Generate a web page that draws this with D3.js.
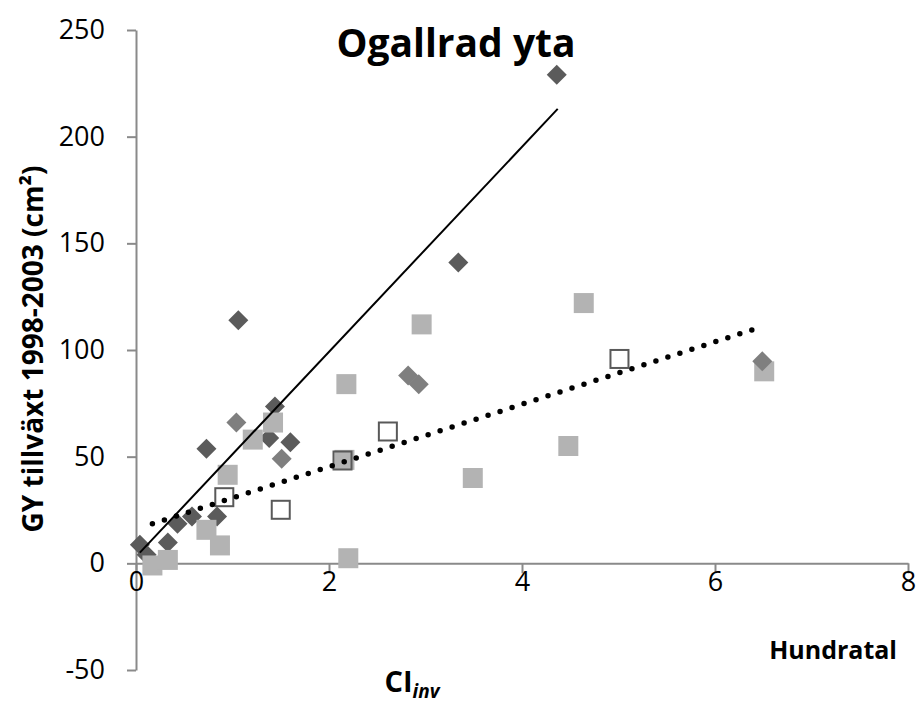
<!DOCTYPE html>
<html>
<head>
<meta charset="utf-8">
<script src="https://cdn.jsdelivr.net/npm/d3@7"></script>
<style>
  html, body { margin: 0; padding: 0; background: #fff; }
  svg { display: block; font-family: "Open Sans", sans-serif; }
</style>
</head>
<body>
<svg id="chart" width="917" height="709"></svg>
<script>
// ---- data ----
const darkX = [0.04, 0.11, 0.33, 0.43, 0.58, 0.84, 0.73, 1.06, 1.38, 1.44, 1.60, 3.34, 4.36];
const darkY = [8.7, 4, 9.8, 18.5, 22, 22, 53.7, 113.9, 58.7, 73.5, 56.8, 141, 229];

const medX = [1.04, 1.51, 2.82, 2.93, 6.49];
const medY = [66, 49, 88, 84, 94.7];

const lightX = [0.17, 0.33, 0.73, 0.87, 0.95, 1.21, 1.42, 2.18, 2.16, 2.20, 2.96, 3.49, 4.48, 4.64, 6.51];
const lightY = [-1, 1.6, 15.7, 8.4, 41.5, 58, 66, 84, 48.5, 2.4, 112, 40, 55, 122, 90];

const openX = [0.915, 1.50, 2.14, 2.61, 5.01];
const openY = [31, 25.1, 48.2, 61.8, 95.8];

// trendline end points
const trendSolidX = [0.04, 4.37];
const trendSolidY = [5, 213];
const trendDotX = [0.17, 6.49];
const trendDotY = [18.5, 111];

const xTicks = [0, 2, 4, 6, 8];
const yTicks = [-50, 0, 50, 100, 150, 200, 250];

const titleText = "Ogallrad yta";
const yLabelText = "GY tillväxt 1998-2003 (cm²)";
const unitText = "Hundratal";

// ---- drawing ----
const svg = d3.select("#chart");
const x = d3.scaleLinear().domain([0, 8]).range([136, 908]);
const y = d3.scaleLinear().domain([-50, 250]).range([670, 30]);
const axisColor = "#8a8a8a";

const zip = (a, b) => a.map((v, i) => [v, b[i]]);

// y axis
const gy = svg.append("g").attr("transform", `translate(${x(0)},0)`)
  .call(d3.axisLeft(y).tickValues(yTicks).tickSize(9).tickSizeOuter(0).tickPadding(22)
    .tickFormat(d => String(d)));
gy.select(".domain").attr("stroke", axisColor).attr("stroke-width", 2);
gy.selectAll(".tick line").attr("stroke", axisColor).attr("stroke-width", 2);
gy.selectAll(".tick text").attr("font-size", 27).attr("fill", "#000")
  .attr("font-family", "Open Sans");

// x axis
const gx = svg.append("g").attr("transform", `translate(0,${y(0)})`)
  .call(d3.axisBottom(x).tickValues(xTicks).tickSize(10).tickSizeOuter(0).tickPadding(-2)
    .tickFormat(d => String(d)));
gx.select(".domain").attr("stroke", axisColor).attr("stroke-width", 2);
gx.selectAll(".tick line").attr("stroke", axisColor).attr("stroke-width", 2);
gx.selectAll(".tick text").attr("font-size", 27).attr("fill", "#000")
  .attr("font-family", "Open Sans");

// marks
const diamond = d3.symbol().type(d3.symbolSquare).size(200);

svg.append("g").selectAll("path").data(zip(darkX, darkY)).join("path")
  .attr("d", diamond)
  .attr("transform", d => `translate(${x(d[0])},${y(d[1])}) rotate(45)`)
  .attr("fill", "#5b5b5b");

svg.append("g").selectAll("rect").data(zip(lightX, lightY)).join("rect")
  .attr("x", d => x(d[0]) - 10).attr("y", d => y(d[1]) - 10)
  .attr("width", 20).attr("height", 20)
  .attr("fill", "#b3b3b3");

svg.append("g").selectAll("path").data(zip(medX, medY)).join("path")
  .attr("d", diamond)
  .attr("transform", d => `translate(${x(d[0])},${y(d[1])}) rotate(45)`)
  .attr("fill", "#7f7f7f");

svg.append("g").selectAll("rect").data(zip(openX, openY)).join("rect")
  .attr("x", d => x(d[0]) - 9).attr("y", d => y(d[1]) - 9)
  .attr("width", 18).attr("height", 18)
  .attr("fill", "none").attr("stroke", "#595959").attr("stroke-width", 2);

// trendlines
const line = d3.line().x(d => x(d[0])).y(d => y(d[1]));
svg.append("path").datum(zip(trendSolidX, trendSolidY))
  .attr("d", line).attr("fill", "none").attr("stroke", "#000").attr("stroke-width", 2);
svg.append("path").datum(zip(trendDotX, trendDotY))
  .attr("d", line).attr("fill", "none").attr("stroke", "#000")
  .attr("stroke-width", 5.5).attr("stroke-linecap", "round").attr("stroke-dasharray", "0 12.6");

// title
svg.append("text").attr("x", 456).attr("y", 57).attr("text-anchor", "middle")
  .attr("font-size", 39).attr("font-weight", "bold").text(titleText);

// y label
svg.append("text").attr("transform", "translate(43,349) rotate(-90)")
  .attr("text-anchor", "middle").attr("font-size", 28).attr("font-weight", "bold")
  .text(yLabelText);

// unit label
svg.append("text").attr("x", 897).attr("y", 659).attr("text-anchor", "end")
  .attr("font-size", 25).attr("font-weight", "bold").text(unitText);

// x label: CI with subscript inv
const xl = svg.append("text").attr("x", 412).attr("y", 692).attr("text-anchor", "middle")
  .attr("font-size", 29).attr("font-weight", "bold");
xl.append("tspan").text("CI");
xl.append("tspan").attr("font-style", "italic").attr("font-size", 19).attr("dy", 6).text("inv");
</script>
</body>
</html>
